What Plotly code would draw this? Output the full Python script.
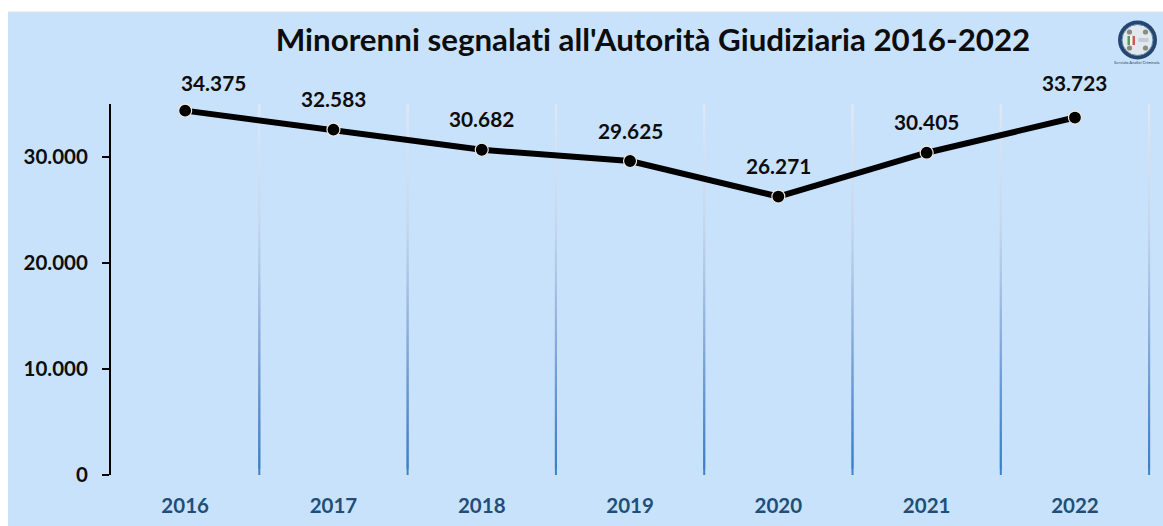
import plotly.graph_objects as go

years = ["2016", "2017", "2018", "2019", "2020", "2021", "2022"]
values = [34375, 32583, 30682, 29625, 26271, 30405, 33723]
value_labels = ["34.375", "32.583", "30.682", "29.625", "26.271", "30.405", "33.723"]
label_dx = [28, 0, 0, 0, 0, 0, 0]
label_dy = [28, 31, 31, 30, 31, 31, 35]
y_ticks = [0, 10000, 20000, 30000]
y_tick_labels = ["0", "10.000", "20.000", "30.000"]
title_text = "Minorenni segnalati all'Autorità Giudiziaria 2016-2022"
FONT = "Lato, Carlito, Calibri, sans-serif"
W, H = 1163, 526
L, R, T, B = 111, 1152, 104, 475
BG = "#c9e2fc"
CAT_PX = 148.3

def hex_mix(a, b, t):
    return tuple(round(a[i] + (b[i] - a[i]) * t) for i in range(3))

stops = [(0.0, (61, 128, 198)), (0.11, (80, 137, 204)), (0.29, (123, 163, 214)),
         (0.5, (169, 194, 227)), (0.65, (197, 214, 236)), (1.0, (224, 233, 245))]
def grid_col(t):
    for (t0, c0), (t1, c1) in zip(stops, stops[1:]):
        if t <= t1:
            return "rgb(%d,%d,%d)" % hex_mix(c0, c1, (t - t0) / (t1 - t0))
    return "rgb(%d,%d,%d)" % stops[-1][1]

shapes = [dict(type="rect", xref="paper", yref="paper", layer="below",
               x0=(8 - L) / (R - L), x1=(W - L) / (R - L),
               y0=(B - H) / (B - T), y1=(B - 12) / (B - T),
               fillcolor=BG, line_width=0)]
shapes.append(dict(type="line", xref="paper", yref="paper", layer="below",
                   x0=(8 - L) / (R - L), x1=(W - L) / (R - L),
                   y0=(B - 12) / (B - T), y1=(B - 12) / (B - T),
                   line=dict(color="#e2e2e2", width=1)))

# gradient gridlines between categories (segments overlap so no seams show)
n_seg = 60
top = 35000
for i in range(len(years)):
    for s in reversed(range(n_seg)):
        t0, t1 = s / n_seg, min(1, (s + 2) / n_seg)
        shapes.append(dict(type="line", xref="x", yref="y", layer="below",
                           x0=i + 0.5, x1=i + 0.5, y0=t0 * top, y1=t1 * top,
                           line=dict(color=grid_col((s + 0.5) / n_seg), width=2)))

# logo drawn in pixel-based paper coords
def px(x): return (x - L) / (R - L)
def py(y): return (B - y) / (B - T)
def circ(cx, cy, r, col, lw=0, lc=None):
    return dict(type="circle", xref="paper", yref="paper", x0=px(cx - r), x1=px(cx + r),
                y0=py(cy + r), y1=py(cy - r), fillcolor=col, line=dict(width=lw, color=lc or col))
def rect(x0, y0, x1, y1, col):
    return dict(type="rect", xref="paper", yref="paper", x0=px(x0), x1=px(x1),
                y0=py(y1), y1=py(y0), fillcolor=col, line_width=0)
cx, cy = 1137.5, 40
shapes += [circ(cx, cy, 19.5, "#24466f"), circ(cx, cy, 15.5, "#dfe9ef", 1, "#5f85a8")]
for dx, dy in [(-8, -8), (8, -8), (-8, 8), (8, 8)]:
    shapes.append(circ(cx + dx, cy + dy, 2.6, "#8d8a7c"))
shapes += [rect(cx - 10, cy - 4, cx - 7.5, cy + 5, "#4f9a5f"),
           rect(cx - 7.5, cy - 4, cx - 5, cy + 5, "#f4f4f0"),
           rect(cx - 5, cy - 4, cx - 2.5, cy + 5, "#cf5a50"),
           rect(cx + 1, cy - 2, cx + 11, cy + 2, "#c3ccd6")]

# category axes read numeric-looking strings as indices, so place labels by index
annotations = [dict(xref="x", yref="y", x=i, y=v, text=t, xshift=dx, yshift=dy, showarrow=False,
                    xanchor="center", yanchor="middle",
                    font=dict(family=FONT, size=20.8, color="#0d0d0d", weight="bold"))
               for i, (v, t, dx, dy) in enumerate(zip(values, value_labels, label_dx, label_dy))]
annotations.append(dict(xref="paper", yref="paper", x=px(cx), y=py(63), text="Servizio Analisi Criminale",
                        showarrow=False, xanchor="center", yanchor="middle",
                        font=dict(family=FONT, size=4.2, color="#33435a")))

fig = go.Figure(go.Scatter(
    x=years, y=values, mode="lines+markers",
    line=dict(color="#000000", width=6),
    marker=dict(color="#000000", size=13, line=dict(color="#f1e9dd", width=1.2)),
    hoverinfo="skip", cliponaxis=False))

fig.update_layout(
    width=W, height=H, paper_bgcolor="#ffffff", plot_bgcolor="rgba(0,0,0,0)",
    margin=dict(l=L, r=W - R, t=T, b=H - B, autoexpand=False),
    showlegend=False,
    title=dict(text=title_text, x=653 / W, xanchor="center", y=1 - 40 / H, yanchor="middle",
               font=dict(family=FONT, size=31.3, color="#0d0d0d", weight="bold")),
    shapes=shapes, annotations=annotations,
)
fig.update_xaxes(type="category", range=[-0.5, -0.5 + (R - L) / CAT_PX], showgrid=False, zeroline=False,
                 showline=False, ticks="", ticklabelstandoff=16,
                 tickfont=dict(family=FONT, size=20.5, color="#1f4e79", weight="bold"))
fig.update_yaxes(range=[0, top], showgrid=False, zeroline=False, showline=True, linecolor="#000000",
                 linewidth=2, ticks="outside", ticklen=7, tickwidth=1.5, tickcolor="#000000",
                 tickvals=y_ticks, ticktext=y_tick_labels, ticklabelstandoff=10,
                 tickfont=dict(family=FONT, size=20.5, color="#0d0d0d", weight="bold"))

fig.write_html("out.html", config=dict(displayModeBar=False),
               post_script="document.body.style.margin='0';"
                           "var s=document.createElement('style');"
                           "s.textContent='text,text *{font-variant-ligatures:none !important;"
                           "font-feature-settings:\"liga\" 0,\"dlig\" 0,\"clig\" 0 !important}';"
                           "document.head.appendChild(s);")
